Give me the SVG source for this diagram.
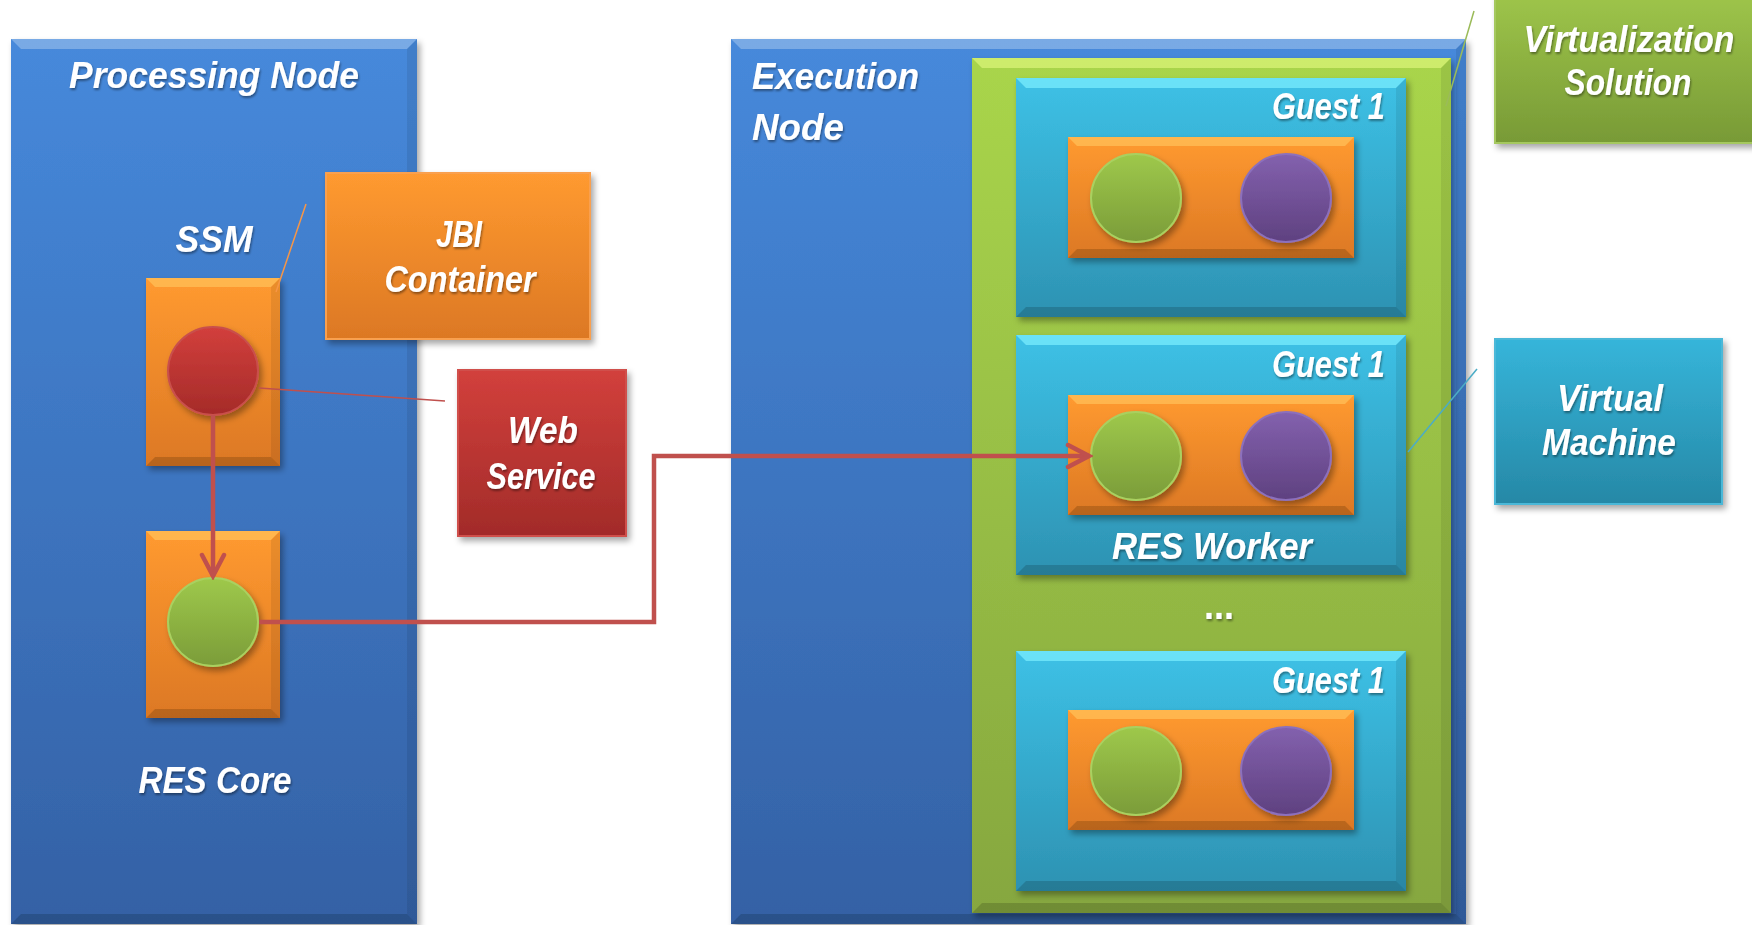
<svg xmlns="http://www.w3.org/2000/svg" width="1752" height="925" viewBox="0 0 1752 925">
<defs>
<linearGradient id="gBlue" x1="0" y1="0" x2="0" y2="1"><stop offset="0" stop-color="#4689DB"/><stop offset="1" stop-color="#3461A5"/></linearGradient>
<linearGradient id="gOrange" x1="0" y1="0" x2="0" y2="1"><stop offset="0" stop-color="#FF9A30"/><stop offset="1" stop-color="#DC7824"/></linearGradient>
<linearGradient id="gRed" x1="0" y1="0" x2="0" y2="1"><stop offset="0" stop-color="#D2403C"/><stop offset="1" stop-color="#A22B29"/></linearGradient>
<linearGradient id="gGreen" x1="0" y1="0" x2="0" y2="1"><stop offset="0" stop-color="#A9D54B"/><stop offset="1" stop-color="#86A73F"/></linearGradient>
<linearGradient id="gGreenLbl" x1="0" y1="0" x2="0" y2="1"><stop offset="0" stop-color="#9EC54A"/><stop offset="1" stop-color="#789A36"/></linearGradient>
<linearGradient id="gTeal" x1="0" y1="0" x2="0" y2="1"><stop offset="0" stop-color="#3DC1E6"/><stop offset="1" stop-color="#2D92B2"/></linearGradient>
<linearGradient id="gTealLbl" x1="0" y1="0" x2="0" y2="1"><stop offset="0" stop-color="#36B5DA"/><stop offset="1" stop-color="#2688A6"/></linearGradient>
<linearGradient id="gCGreen" x1="0" y1="0" x2="0" y2="1"><stop offset="0" stop-color="#9EC84B"/><stop offset="1" stop-color="#7B9C39"/></linearGradient>
<linearGradient id="gCPurple" x1="0" y1="0" x2="0" y2="1"><stop offset="0" stop-color="#8361AE"/><stop offset="1" stop-color="#5F4180"/></linearGradient>
<linearGradient id="gCRed" x1="0" y1="0" x2="0" y2="1"><stop offset="0" stop-color="#D23F3C"/><stop offset="1" stop-color="#A52B29"/></linearGradient>
<filter id="sh" x="-10%" y="-10%" width="130%" height="130%"><feDropShadow dx="3" dy="4" stdDeviation="3" flood-color="#000" flood-opacity="0.35"/></filter>
<filter id="tsh" x="-10%" y="-20%" width="130%" height="160%"><feDropShadow dx="1" dy="2" stdDeviation="1.2" flood-color="#000" flood-opacity="0.4"/></filter>
<marker id="chev" markerUnits="userSpaceOnUse" markerWidth="28" markerHeight="28" viewBox="0 0 28 28" refX="24" refY="14" orient="auto">
<path d="M3,3 L24,14 L3,25" fill="none" stroke="#C0504D" stroke-width="4.5" stroke-linecap="round"/>
</marker>
</defs>
<style>
text{font-family:"Liberation Sans",Arial,sans-serif;font-weight:bold;font-style:italic;font-size:36px;fill:#fff;filter:url(#tsh)}
.m{text-anchor:middle}
.e{text-anchor:end}
.up{font-style:normal;font-size:40px}
.hl{fill:#fff;opacity:0.28}
.dk{fill:#000;opacity:0.16}
.sd{fill:#000;opacity:0.08}
.conn{fill:none;stroke:#C0504D;stroke-width:4.5}
.lead{fill:none;stroke-width:1.5}
</style>

<g id="processing-node" filter="url(#sh)">
<rect x="11" y="39" width="406" height="885" fill="url(#gBlue)"/>
<polygon class="hl" points="11,39 417,39 407,49 21,49"/>
<polygon class="dk" points="11,924 417,924 407,914 21,914"/>
<polygon class="sd" points="417,39 417,924 407,914 407,49"/>
</g>
<text class="m" x="214" y="88" textLength="290" lengthAdjust="spacingAndGlyphs">Processing Node</text>

<g id="ssm">
<g filter="url(#sh)">
<rect x="146" y="278" width="134" height="188" fill="url(#gOrange)"/>
<polygon points="146,278 280,278 271,287 155,287" fill="#FFC25A" opacity="0.7"/>
<polygon class="dk" points="146,466 280,466 271,457 155,457"/>
<polygon class="sd" points="280,278 280,466 271,457 271,287"/>
</g>
<ellipse cx="213" cy="371" rx="45" ry="44" fill="url(#gCRed)" stroke="#C9504C" stroke-width="2" filter="url(#sh)"/>
<text class="m" x="214" y="252" textLength="77" lengthAdjust="spacingAndGlyphs">SSM</text>
</g>

<g id="res-core">
<g filter="url(#sh)">
<rect x="146" y="531" width="134" height="187" fill="url(#gOrange)"/>
<polygon points="146,531 280,531 271,540 155,540" fill="#FFC25A" opacity="0.7"/>
<polygon class="dk" points="146,718 280,718 271,709 155,709"/>
<polygon class="sd" points="280,531 280,718 271,709 271,540"/>
</g>
<ellipse cx="213" cy="622" rx="45" ry="44" fill="url(#gCGreen)" stroke="#A9D060" stroke-width="2" filter="url(#sh)"/>
<text class="m" x="215" y="793" textLength="153" lengthAdjust="spacingAndGlyphs">RES Core</text>
</g>

<g id="jbi-container">
<rect x="326" y="173" width="264" height="166" fill="url(#gOrange)" stroke="#F9A050" stroke-width="2" filter="url(#sh)"/>
<text class="m" x="459" y="247" textLength="46" lengthAdjust="spacingAndGlyphs">JBI</text>
<text class="m" x="460" y="292" textLength="151" lengthAdjust="spacingAndGlyphs">Container</text>
</g>

<g id="web-service">
<rect x="458" y="370" width="168" height="166" fill="url(#gRed)" stroke="#D0504C" stroke-width="2" filter="url(#sh)"/>
<text class="m" x="543" y="443" textLength="70" lengthAdjust="spacingAndGlyphs">Web</text>
<text class="m" x="541" y="489" textLength="109" lengthAdjust="spacingAndGlyphs">Service</text>
</g>

<g id="execution-node">
<g filter="url(#sh)">
<rect x="731" y="39" width="735" height="885" fill="url(#gBlue)"/>
<polygon class="hl" points="731,39 1466,39 1456,49 741,49"/>
<polygon class="dk" points="731,924 1466,924 1456,914 741,914"/>
<polygon class="sd" points="1466,39 1466,924 1456,914 1456,49"/>
</g>
<text x="752" y="89" textLength="167" lengthAdjust="spacingAndGlyphs">Execution</text>
<text x="752" y="140" textLength="92" lengthAdjust="spacingAndGlyphs">Node</text>
</g>

<g id="virtualization-layer" filter="url(#sh)">
<rect x="972" y="58" width="479" height="855" fill="url(#gGreen)"/>
<polygon points="972,58 1451,58 1441,68 982,68" fill="#DDF57A" opacity="0.7"/>
<polygon class="dk" points="972,913 1451,913 1441,903 982,903"/>
<polygon class="sd" points="1451,58 1451,913 1441,903 1441,68"/>
</g>

<g id="guest-1">
<g filter="url(#sh)">
<rect x="1016" y="78" width="390" height="239" fill="url(#gTeal)"/>
<polygon points="1016,78 1406,78 1396,88 1026,88" fill="#7FEFFF" opacity="0.7"/>
<polygon class="dk" points="1016,317 1406,317 1396,307 1026,307"/>
<polygon class="sd" points="1406,78 1406,317 1396,307 1396,88"/>
</g>
<text class="e" x="1385" y="119" textLength="113" lengthAdjust="spacingAndGlyphs">Guest 1</text>
<g filter="url(#sh)">
<rect x="1068" y="137" width="286" height="121" fill="url(#gOrange)"/>
<polygon points="1068,137 1354,137 1345,146 1077,146" fill="#FFC25A" opacity="0.7"/>
<polygon class="dk" points="1068,258 1354,258 1345,249 1077,249"/>
</g>
<ellipse cx="1136" cy="198" rx="45" ry="44" fill="url(#gCGreen)" stroke="#A9D060" stroke-width="2" filter="url(#sh)"/>
<ellipse cx="1286" cy="198" rx="45" ry="44" fill="url(#gCPurple)" stroke="#8C70BC" stroke-width="2" filter="url(#sh)"/>
</g>

<g id="guest-2">
<g filter="url(#sh)">
<rect x="1016" y="335" width="390" height="240" fill="url(#gTeal)"/>
<polygon points="1016,335 1406,335 1396,345 1026,345" fill="#7FEFFF" opacity="0.7"/>
<polygon class="dk" points="1016,575 1406,575 1396,565 1026,565"/>
<polygon class="sd" points="1406,335 1406,575 1396,565 1396,345"/>
</g>
<text class="e" x="1385" y="377" textLength="113" lengthAdjust="spacingAndGlyphs">Guest 1</text>
<g filter="url(#sh)">
<rect x="1068" y="395" width="286" height="120" fill="url(#gOrange)"/>
<polygon points="1068,395 1354,395 1345,404 1077,404" fill="#FFC25A" opacity="0.7"/>
<polygon class="dk" points="1068,515 1354,515 1345,506 1077,506"/>
</g>
<ellipse cx="1136" cy="456" rx="45" ry="44" fill="url(#gCGreen)" stroke="#A9D060" stroke-width="2" filter="url(#sh)"/>
<ellipse cx="1286" cy="456" rx="45" ry="44" fill="url(#gCPurple)" stroke="#8C70BC" stroke-width="2" filter="url(#sh)"/>
<text class="m" x="1212" y="559" textLength="200" lengthAdjust="spacingAndGlyphs">RES Worker</text>
</g>

<g id="ellipsis">
<text class="m up" x="1219" y="619" textLength="30" lengthAdjust="spacingAndGlyphs">...</text>
</g>

<g id="guest-3">
<g filter="url(#sh)">
<rect x="1016" y="651" width="390" height="240" fill="url(#gTeal)"/>
<polygon points="1016,651 1406,651 1396,661 1026,661" fill="#7FEFFF" opacity="0.7"/>
<polygon class="dk" points="1016,891 1406,891 1396,881 1026,881"/>
<polygon class="sd" points="1406,651 1406,891 1396,881 1396,661"/>
</g>
<text class="e" x="1385" y="693" textLength="113" lengthAdjust="spacingAndGlyphs">Guest 1</text>
<g filter="url(#sh)">
<rect x="1068" y="710" width="286" height="120" fill="url(#gOrange)"/>
<polygon points="1068,710 1354,710 1345,719 1077,719" fill="#FFC25A" opacity="0.7"/>
<polygon class="dk" points="1068,830 1354,830 1345,821 1077,821"/>
</g>
<ellipse cx="1136" cy="771" rx="45" ry="44" fill="url(#gCGreen)" stroke="#A9D060" stroke-width="2" filter="url(#sh)"/>
<ellipse cx="1286" cy="771" rx="45" ry="44" fill="url(#gCPurple)" stroke="#8C70BC" stroke-width="2" filter="url(#sh)"/>
</g>

<g id="virtualization-solution">
<rect x="1495" y="-6" width="270" height="149" fill="url(#gGreenLbl)" stroke="#A5C85E" stroke-width="2" filter="url(#sh)"/>
<text class="m" x="1629" y="52" textLength="211" lengthAdjust="spacingAndGlyphs">Virtualization</text>
<text class="m" x="1628" y="95" textLength="127" lengthAdjust="spacingAndGlyphs">Solution</text>
</g>

<g id="virtual-machine">
<rect x="1495" y="339" width="227" height="165" fill="url(#gTealLbl)" stroke="#4BB8D8" stroke-width="2" filter="url(#sh)"/>
<text class="m" x="1610" y="411" textLength="106" lengthAdjust="spacingAndGlyphs">Virtual</text>
<text class="m" x="1609" y="455" textLength="134" lengthAdjust="spacingAndGlyphs">Machine</text>
</g>

<g id="connectors">
<line class="lead" x1="306" y1="204" x2="276" y2="292" stroke="#F79646"/>
<line class="lead" x1="259" y1="388" x2="445" y2="401" stroke="#C0504D"/>
<line class="lead" x1="1474" y1="11" x2="1446" y2="106" stroke="#9BBB59"/>
<line class="lead" x1="1477" y1="369" x2="1408" y2="452" stroke="#4BACC6"/>
<path class="conn" d="M213,415 V576" marker-end="url(#chev)"/>
<path class="conn" d="M259,622 H654 V456 H1089" marker-end="url(#chev)"/>
</g>
</svg>
